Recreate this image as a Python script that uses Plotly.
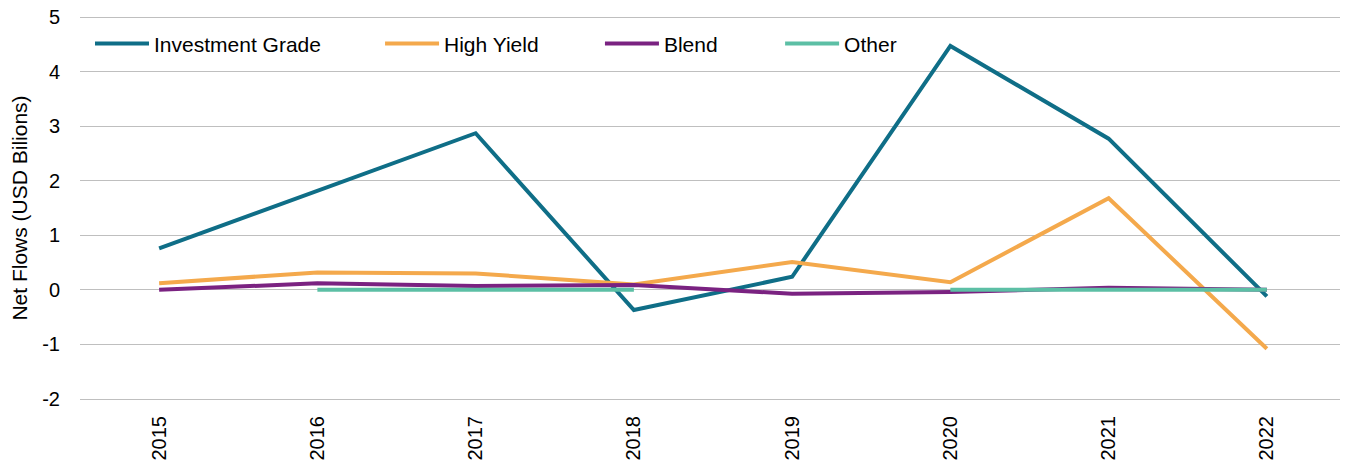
import plotly.graph_objects as go

years = ["2015", "2016", "2017", "2018", "2019", "2020", "2021", "2022"]
investment_grade = [0.76, 1.82, 2.87, -0.37, 0.24, 4.47, 2.77, -0.12]
high_yield = [0.12, 0.32, 0.30, 0.10, 0.51, 0.14, 1.68, -1.08]
blend = [0.00, 0.12, 0.07, 0.09, -0.07, -0.04, 0.04, 0.00]
other = [None, 0.00, 0.00, 0.00, None, 0.00, 0.00, 0.00]

y_tickvals = [-2, -1, 0, 1, 2, 3, 4, 5]
y_ticktext = ["-2", "-1", "0", "1", "2", "3", "4", "5"]

series = [
    ("Investment Grade", investment_grade, "#0f6e87"),
    ("High Yield", high_yield, "#f4a94c"),
    ("Blend", blend, "#7a2281"),
    ("Other", other, "#5cbfa5"),
]
legend_ids = ["legend", "legend2", "legend3", "legend4"]
legend_x = [0.0079, 0.237, 0.4107, 0.553]

fig = go.Figure()
for (name, vals, color), lid in zip(series, legend_ids):
    fig.add_trace(go.Scatter(
        x=years, y=vals, name=name, mode="lines",
        line=dict(color=color, width=4),
        connectgaps=False, legend=lid,
    ))

font = "Liberation Sans, Arial, sans-serif"
legend_common = dict(
    orientation="h", y=0.923, xanchor="left", yanchor="middle",
    bgcolor="rgba(0,0,0,0)", font=dict(size=21), itemwidth=54,
)
layout_legends = {lid: dict(x=lx, **legend_common) for lid, lx in zip(legend_ids, legend_x)}

pad = 0.055
fig.update_layout(
    width=1340, height=454,
    margin=dict(l=72, r=2, t=6, b=60, autoexpand=False),
    paper_bgcolor="white", plot_bgcolor="white",
    font=dict(family=font, size=20, color="#000000"),
    showlegend=True,
    xaxis=dict(
        type="category", range=[-0.5, 7.5], tickangle=-90,
        showgrid=False, showline=False, zeroline=False,
        tickfont=dict(size=20), automargin=False,
        ticks="outside", ticklen=5, tickcolor="rgba(0,0,0,0)",
    ),
    yaxis=dict(
        range=[-2 - pad, 5 + pad], tickvals=y_tickvals, ticktext=y_ticktext,
        showgrid=True, gridcolor="#bfbfbf", gridwidth=1,
        zeroline=False, showline=False, tickfont=dict(size=20),
        automargin=False, ticklabeloverflow="allow",
        ticks="outside", ticklen=15, tickcolor="rgba(0,0,0,0)",
        title=dict(text="Net Flows (USD Bilions)", font=dict(size=21), standoff=18),
    ),
    **layout_legends,
)

fig.write_html("out.html")
